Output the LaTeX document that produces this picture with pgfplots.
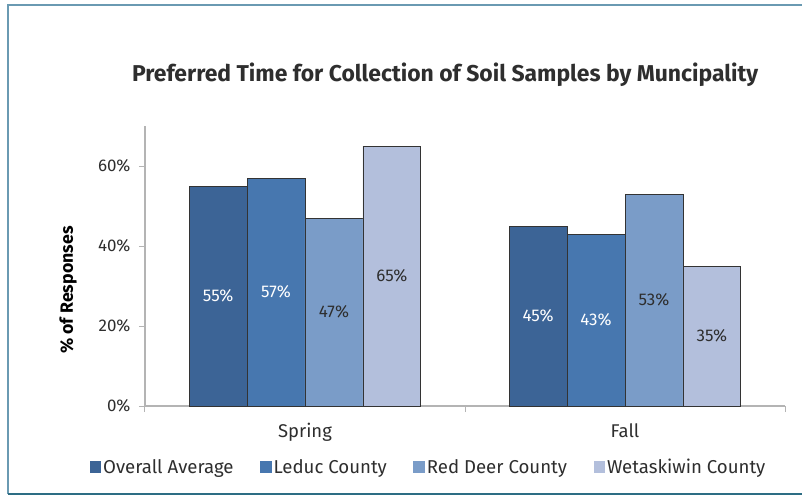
\documentclass[border=0pt]{standalone}
\usepackage{pgfplots}
\pgfplotsset{compat=1.18}
\usepackage{fontspec}
\setmainfont{Fira Sans}

\definecolor{cA}{HTML}{3C6496}
\definecolor{cB}{HTML}{4777AF}
\definecolor{cC}{HTML}{7A9CC8}
\definecolor{cD}{HTML}{B3BFDC}
\definecolor{axisgray}{HTML}{B4B4B4}
\definecolor{txt}{HTML}{2E2E2E}
\definecolor{frameA}{HTML}{6A9AB2}
\definecolor{frameB}{HTML}{2D6D84}

\begin{document}
\begin{tikzpicture}
\begin{axis}[
    at={(0,0)}, anchor=south west,
    scale only axis, width=640bp, height=280bp,
    ybar=0pt, bar width=0.181,
    xmin=-0.5, xmax=1.5, ymin=0, ymax=70,
    axis x line*=bottom, axis y line*=left,
    axis line style={draw=axisgray, line width=1.3bp},
    tick align=outside, major tick length=6bp,
    tick style={draw=axisgray, line width=1bp},
    /pgf/number format/assume math mode=true,
    xtick={-0.5,0.5,1.5}, xticklabels={},
    extra x ticks={0,1}, extra x tick labels={Spring,Fall},
    extra x tick style={tick style={draw=none}},
    xticklabel style={font=\fontsize{18.5}{20}\selectfont, text=txt, yshift=-8bp},
    ytick={0,20,40,60},
    yticklabel={\pgfmathprintnumber{\tick}\%},
    yticklabel style={font=\fontsize{17}{20}\selectfont, text=txt, xshift=-5bp},
    title={Preferred Time for Collection of Soil Samples by Muncipality},
    title style={font=\fontsize{23}{26}\selectfont\bfseries, text=txt,
                 at={(0.469,1.16)}, anchor=center},
    ylabel={\% of Responses},
    ylabel style={font=\fontsize{17.8}{21}\selectfont\bfseries, text=black,
                  at={(-0.12,0.414)}, anchor=center, rotate=0},
    every axis plot/.append style={draw=black!80, line width=0.8bp},
    visualization depends on=y \as \rawy,
    nodes near coords={\pgfmathprintnumber{\pgfplotspointmeta}\%},
    every node near coord/.append style={font=\fontsize{17}{20}\selectfont,
        anchor=center, shift={(axis direction cs:0,-\rawy/2)}},
    legend style={at={(0.443,-0.218)}, anchor=center, draw=none,
                  font=\fontsize{18.7}{22}\selectfont, text=txt,
                  nodes={inner xsep=2bp},
                  /tikz/every even column/.append style={column sep=24.5bp}},
    legend columns=-1,
    legend image code/.code={\fill[#1,draw=none] (0bp,-5.8bp) rectangle (11.5bp,5.8bp);},
]
\addplot[fill=cA, every node near coord/.append style={text=white}] coordinates {(0,55) (1,45)};
\addplot[fill=cB, every node near coord/.append style={text=white}] coordinates {(0,57) (1,43)};
\addplot[fill=cC, every node near coord/.append style={text=txt}] coordinates {(0,47) (1,53)};
\addplot[fill=cD, every node near coord/.append style={text=txt}] coordinates {(0,65) (1,35)};
\legend{Overall Average, Leduc County, Red Deer County, Wetaskiwin County}
\end{axis}
\draw[frameA, line width=2bp] (657bp,401bp) -- (-137bp,401bp) -- (-137bp,-88bp);
\draw[frameB, line width=2bp] (-137bp,-88bp) -- (657bp,-88bp);
\pgfresetboundingbox
\path[use as bounding box] (-145bp,-95bp) rectangle (657bp,406bp);
\end{tikzpicture}
\end{document}
